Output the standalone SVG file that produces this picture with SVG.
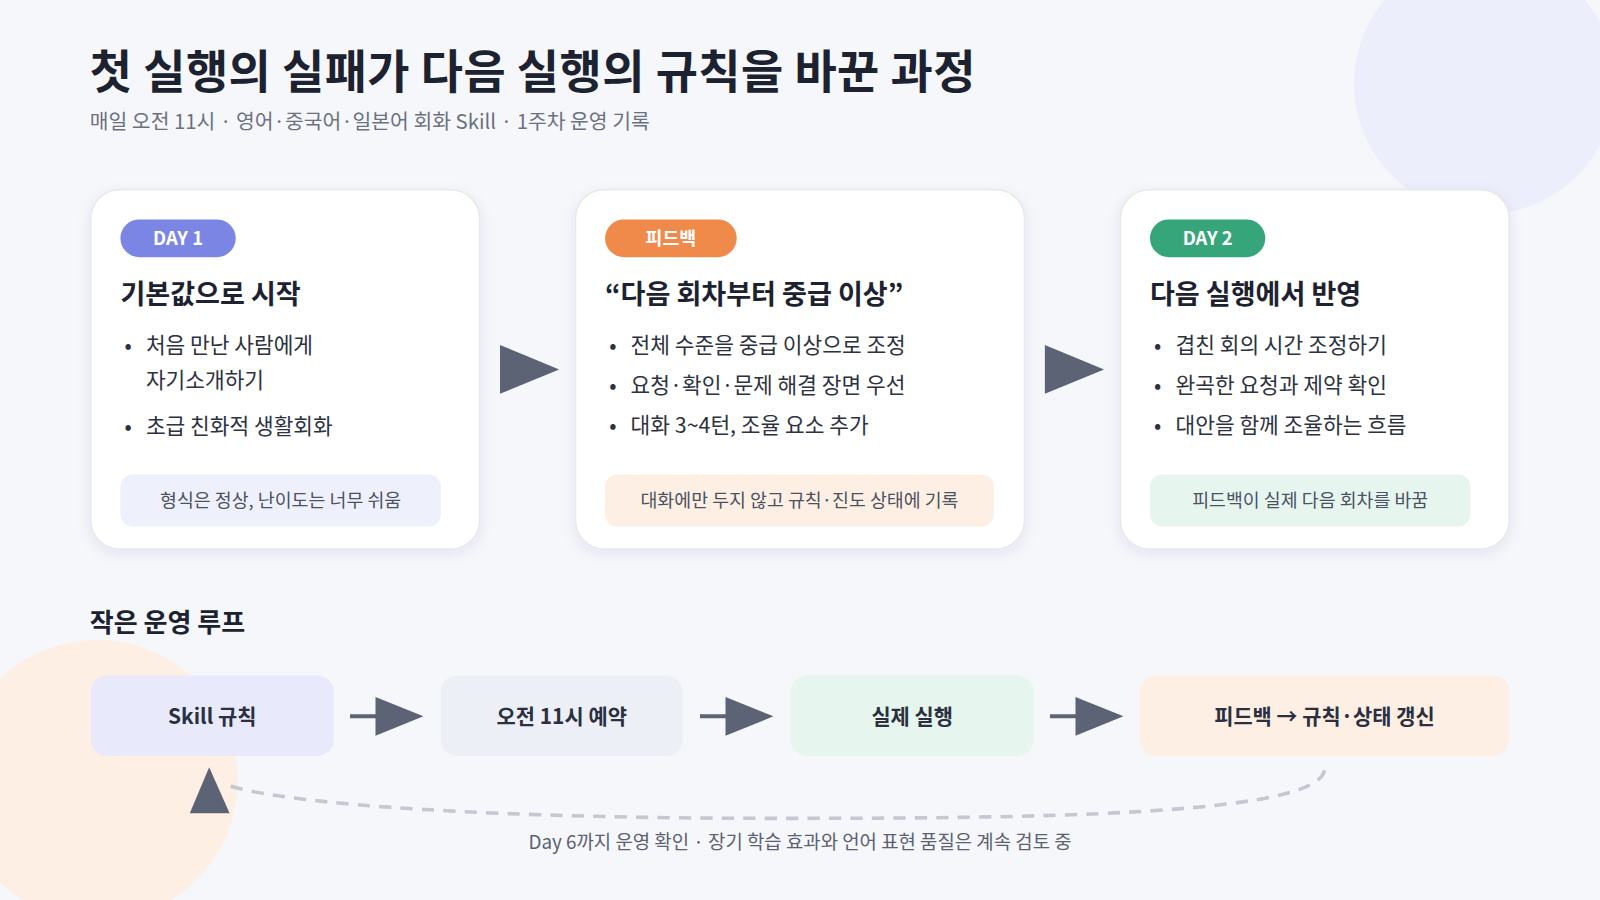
<svg xmlns="http://www.w3.org/2000/svg" width="1600" height="900" viewBox="0 0 1600 900">
<defs>
<style>
text{font-family:"Noto Sans CJK KR","Noto Sans",sans-serif}
.card{fill:#fff;stroke:#e6e8ef;stroke-width:1.5}
.badge{font-size:18px;font-weight:700;fill:#fff;text-anchor:middle}
.h{font-size:26.5px;font-weight:700;fill:#1c2230}
.b{font-size:21px;fill:#2c3240}
.n{font-size:18px;fill:#4b5262;text-anchor:middle}
.lb{font-size:20.5px;font-weight:700;fill:#2a3040;text-anchor:middle}
.ar{fill:#5b6375}
</style>
<filter id="sh" x="-10%" y="-10%" width="120%" height="130%"><feDropShadow dx="0" dy="4" stdDeviation="7" flood-color="#1e2a50" flood-opacity="0.08"/></filter>
</defs>
<rect width="1600" height="900" fill="#f6f7fb"/>
<g transform="scale(1.0204)">
<circle cx="1455" cy="82" r="128" fill="#eceefc"/>
<circle cx="95" cy="765" r="138" fill="#fdefe4"/>
<text x="88" y="86" font-size="45" font-weight="700" fill="#1c2230" letter-spacing="0.4">첫 실행의 실패가 다음 실행의 규칙을 바꾼 과정</text>
<text x="88" y="126" font-size="20" fill="#6b7180">매일 오전 11시 · 영어·중국어·일본어 회화 Skill · 1주차 운영 기록</text>

<g id="card1">
<rect class="card" x="89" y="186" width="381" height="352" rx="28" filter="url(#sh)"/>
<rect x="118" y="215" width="113" height="37" rx="18.5" fill="#7b86e4"/>
<text class="badge" x="174.5" y="240">DAY 1</text>
<text class="h" x="118" y="298">기본값으로 시작</text>
<text class="b" x="122" y="346">•</text><text class="b" x="143" y="346">처음 만난 사람에게</text>
<text class="b" x="143" y="380">자기소개하기</text>
<text class="b" x="122" y="425">•</text><text class="b" x="143" y="425">초급 친화적 생활회화</text>
<rect x="118" y="465" width="314" height="51" rx="12" fill="#eef0fc"/>
<text class="n" x="275" y="497">형식은 정상, 난이도는 너무 쉬움</text>
</g>
<g id="card2">
<rect class="card" x="564" y="186" width="440" height="352" rx="28" filter="url(#sh)"/>
<rect x="593" y="215" width="129" height="37" rx="18.5" fill="#f08a4a"/>
<text class="badge" x="657.5" y="240">피드백</text>
<text class="h" x="593" y="298">“다음 회차부터 중급 이상”</text>
<text class="b" x="597" y="346">•</text><text class="b" x="618" y="346">전체 수준을 중급 이상으로 조정</text>
<text class="b" x="597" y="385">•</text><text class="b" x="618" y="385">요청·확인·문제 해결 장면 우선</text>
<text class="b" x="597" y="424">•</text><text class="b" x="618" y="424">대화 3~4턴, 조율 요소 추가</text>
<rect x="593" y="465" width="381" height="51" rx="12" fill="#fdefe4"/>
<text class="n" x="783.5" y="497">대화에만 두지 않고 규칙·진도 상태에 기록</text>
</g>
<g id="card3">
<rect class="card" x="1098" y="186" width="381" height="352" rx="28" filter="url(#sh)"/>
<rect x="1127" y="215" width="113" height="37" rx="18.5" fill="#36a57a"/>
<text class="badge" x="1183.5" y="240">DAY 2</text>
<text class="h" x="1127" y="298">다음 실행에서 반영</text>
<text class="b" x="1131" y="346">•</text><text class="b" x="1152" y="346">겹친 회의 시간 조정하기</text>
<text class="b" x="1131" y="385">•</text><text class="b" x="1152" y="385">완곡한 요청과 제약 확인</text>
<text class="b" x="1131" y="424">•</text><text class="b" x="1152" y="424">대안을 함께 조율하는 흐름</text>
<rect x="1127" y="465" width="314" height="51" rx="12" fill="#e7f5ef"/>
<text class="n" x="1284" y="497">피드백이 실제 다음 회차를 바꿈</text>
</g>

<text x="88" y="619" font-size="25.5" font-weight="700" fill="#1c2230">작은 운영 루프</text>

<g id="loop1"><rect x="89" y="662" width="238" height="79" rx="16" fill="#e8eafc"/><text class="lb" x="208" y="710">Skill 규칙</text></g>
<g id="loop2"><rect x="432" y="662" width="237" height="79" rx="16" fill="#eceff5"/><text class="lb" x="550.5" y="710">오전 11시 예약</text></g>
<g id="loop3"><rect x="775" y="662" width="238" height="79" rx="16" fill="#e6f5ee"/><text class="lb" x="894" y="710">실제 실행</text></g>
<g id="loop4"><rect x="1117" y="662" width="362" height="79" rx="16" fill="#fdefe3"/><text class="lb" x="1298" y="710">피드백 → 규칙·상태 갱신</text></g>

<g id="connectors">
<polygon class="ar" points="490,338 548,362 490,386"/>
<polygon class="ar" points="1024,338 1082,362 1024,386"/>
<line x1="343" y1="702" x2="375" y2="702" stroke="#5b6375" stroke-width="4"/>
<polygon class="ar" points="368,683 415,702 368,721"/>
<line x1="686" y1="702" x2="718" y2="702" stroke="#5b6375" stroke-width="4"/>
<polygon class="ar" points="711,683 758,702 711,721"/>
<line x1="1029" y1="702" x2="1061" y2="702" stroke="#5b6375" stroke-width="4"/>
<polygon class="ar" points="1054,683 1101,702 1054,721"/>
<path d="M1298,755 C1290,800 1000,802 760,802 C500,802 280,790 218,768" fill="none" stroke="#c4c8d2" stroke-width="3.5" stroke-dasharray="12,9"/>
<polygon class="ar" points="205,752 225,797 186,797"/>
</g>
<text x="784" y="832" font-size="18.5" fill="#5b6170" text-anchor="middle">Day 6까지 운영 확인 · 장기 학습 효과와 언어 표현 품질은 계속 검토 중</text>
</g>
</svg>
